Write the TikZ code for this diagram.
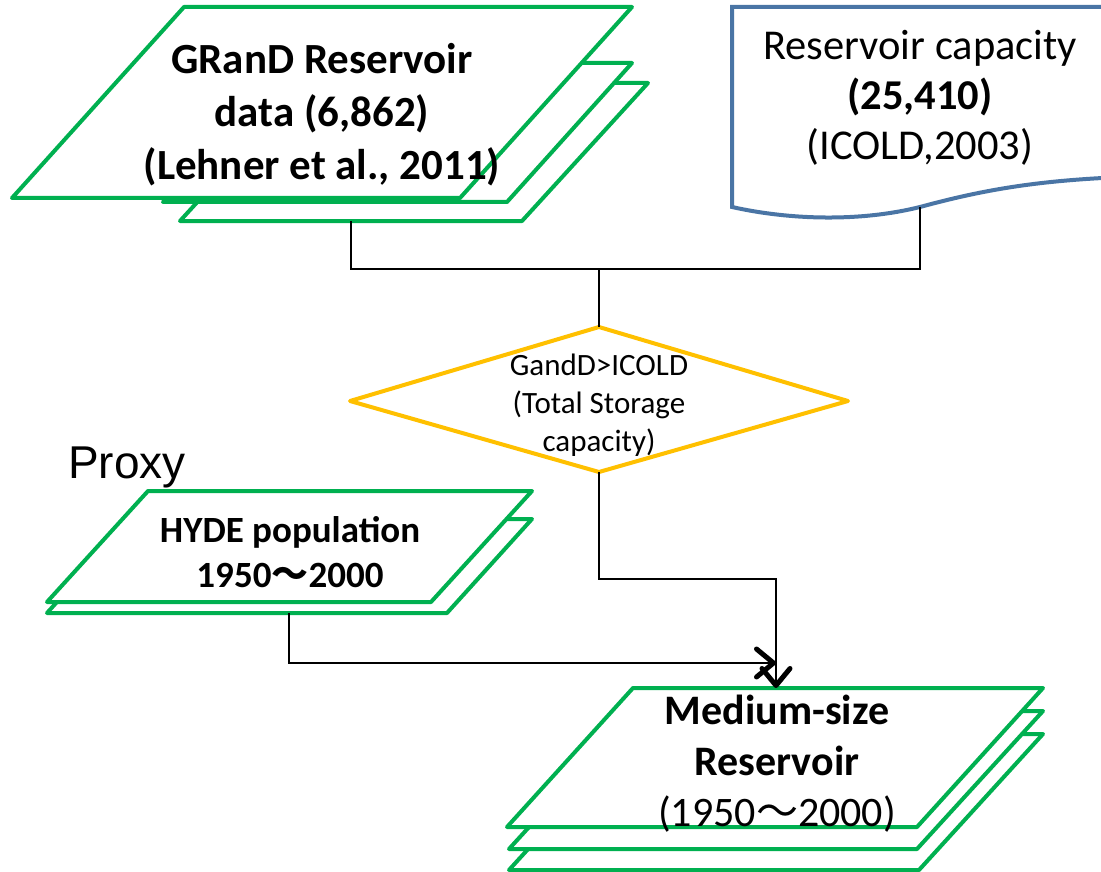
\documentclass[tikz,border=0pt]{standalone}
\usepackage{fontspec}
\setmainfont{Carlito}
\newfontfamily\proxyfont{Liberation Sans}
\newfontfamily\jpfont{Noto Sans CJK JP}
\usetikzlibrary{arrows.meta,positioning}

\definecolor{ppgreen}{RGB}{0,176,80}
\definecolor{ppyellow}{RGB}{255,192,0}
\definecolor{ppblue}{RGB}{74,117,165}
\newcommand{\wave}{{\jpfont 〜}}

\begin{document}
\begin{tikzpicture}[x=1pt, y=-1pt,
    layer/.style={draw=ppgreen, line width=4pt, fill=white, line join=round},
    docshape/.style={draw=ppblue, line width=4pt, fill=white},
    decision/.style={draw=ppyellow, line width=4pt, fill=white, line join=round},
    conn/.style={draw=black, line width=1.5pt},
    arr/.style={conn, -{Straight Barb[length=17pt,width=28pt,line width'=5pt,round]}},
    txt/.style={align=center, inner sep=0pt}]
	\useasboundingbox (0,0) rectangle (1101,872);
	\clip (0,0) rectangle (1101,872);

	% GRanD stack
	\draw[layer] (180,221) -- (522,221) -- (648,83) -- (306,83) -- cycle;
	\draw[layer] (163,202) -- (507,202) -- (632,63) -- (288,63) -- cycle;
	\draw[layer] (12,198) -- (460,198) -- (632,7) -- (184,7) -- cycle;
	\node[txt, font=\bfseries\fontsize{43}{53}\selectfont] (grand) at (322,115) {GRanD Reservoir\\data (6,862)\\(Lehner et al., 2011)};

	% ICOLD document
	\draw[docshape] (732,7) -- (1160,7) -- (1160,176) .. controls (1050,178) and (990,188) .. (920,207) .. controls (860,222) and (790,220) .. (732,207) -- cycle;
	\node[txt, font=\fontsize{42.5}{50}\selectfont] (icold) at (920,98) {Reservoir capacity\\\textbf{(25,410)}\\(ICOLD,2003)};

	% decision
	\draw[decision] (599,327) -- (848,401) -- (599,472) -- (350,401) -- cycle;
	\node[txt, font=\fontsize{31}{38}\selectfont] (test) at (599,405) {GandD>ICOLD\\(Total Storage\\capacity)};

	% proxy
	\node[font=\proxyfont\fontsize{46}{50}\selectfont, anchor=base west, inner sep=0pt] (proxy) at (68,478) {Proxy};
	\draw[layer] (47,613) -- (447,613) -- (532,519) -- (132,519) -- cycle;
	\draw[layer] (47,602) -- (431,602) -- (532,491) -- (148,491) -- cycle;
	\node[txt, font=\bfseries\fontsize{37}{45}\selectfont] (hyde) at (290,552) {HYDE population\\1950\wave 2000};

	% output stack
	\draw[layer] (509,870) -- (919,870) -- (1043,734) -- (633,734) -- cycle;
	\draw[layer] (509,849) -- (917,849) -- (1043,711) -- (635,711) -- cycle;
	\draw[layer] (507,827) -- (917,827) -- (1043,688) -- (633,688) -- cycle;
	\node[txt, font=\fontsize{42}{51}\selectfont] (medium) at (777,764) {\textbf{Medium-size}\\\textbf{Reservoir}\\(1950\wave 2000)};

	\coordinate (grand-s) at (351,221);
	\coordinate (icold-s) at (920,207);
	\coordinate (join) at (599,269);
	\coordinate (test-n) at (599,327);
	\coordinate (test-s) at (599,472);
	\coordinate (bend) at (776,579);
	\coordinate (hyde-s) at (289,613);
	\coordinate (meet) at (776,663);
	\coordinate (medium-n) at (776,688);

	\draw[conn] (grand-s) |- (join) -| (icold-s);
	\draw[conn] (join) -- (test-n);
	\draw[arr] (test-s) |- (bend) -- (medium-n);
	\draw[arr] (hyde-s) |- (meet);
\end{tikzpicture}
\end{document}
